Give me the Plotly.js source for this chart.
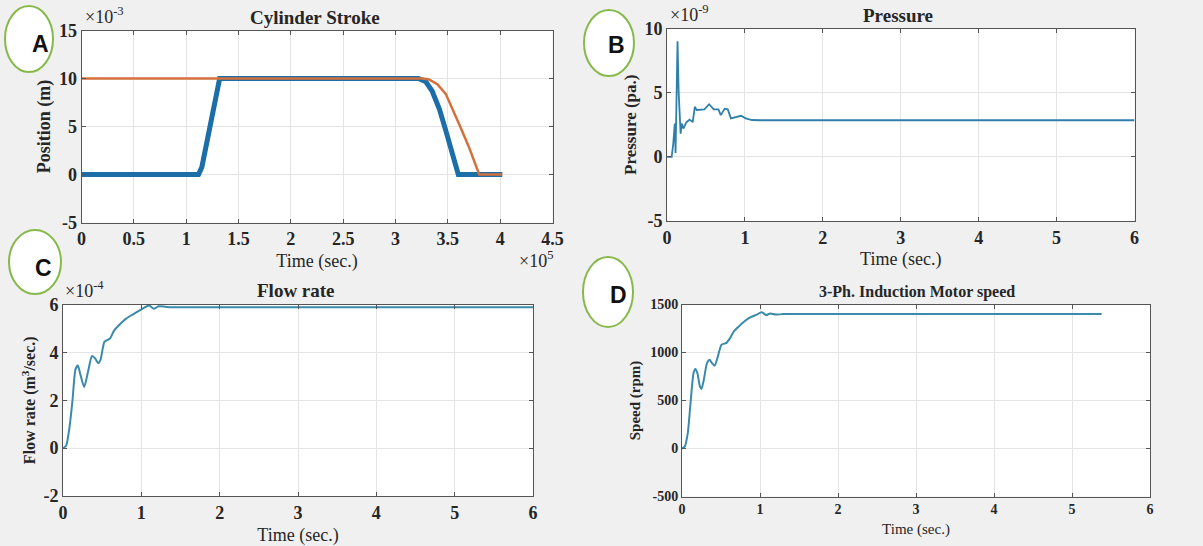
<!DOCTYPE html>
<html>
<head>
<meta charset="utf-8">
<script src="https://cdn.plot.ly/plotly-3.0.1.min.js"></script>
<style>html,body{margin:0;padding:0;background:#f0f0f0;}#chart{width:1203px;height:546px;}</style>
</head>
<body>
<div id="chart"></div>
<script>
// ---------- DATA ----------
// Panel A: Cylinder Stroke (x in ×10^5, y in ×10^-3)
const strokeBlueX = [0, 1.118, 1.15, 1.18, 1.21, 1.245, 1.277, 1.32, 3.22, 3.29, 3.35, 3.42, 3.48, 3.54, 3.6, 3.8, 4.02];
const strokeBlueY = [0, 0, 0.77, 2.5, 4.3, 6.2, 8.0, 10, 10, 9.66, 8.7, 6.8, 4.6, 2.2, 0, 0, 0];
const strokeOrangeX = [0, 3.26, 3.32, 3.4, 3.48, 3.54, 3.62, 3.7, 3.8, 4.02];
const strokeOrangeY = [10, 10, 9.9, 9.4, 8.4, 7.0, 4.95, 2.9, 0, 0];
// Panel B: Pressure (×10^-9)
const pressureT = [0, 0.06, 0.08, 0.1, 0.11, 0.125, 0.135, 0.15, 0.175, 0.19, 0.21, 0.25, 0.29, 0.33, 0.357, 0.38, 0.44, 0.48, 0.54, 0.6, 0.66, 0.69, 0.74, 0.78, 0.82, 0.88, 0.95, 1.01, 1.09, 1.2, 6];
const pressureV = [0, 0, 1.0, 2.6, 0.3, 5.0, 9.0, 5.0, 1.8, 2.6, 2.2, 2.7, 2.9, 2.7, 3.9, 3.65, 3.7, 3.7, 4.1, 3.7, 3.7, 3.25, 3.75, 3.7, 3.0, 3.1, 3.2, 3.0, 2.87, 2.85, 2.85];
// Panel C: Flow rate (×10^-4)
const flowT = [0, 0.04, 0.08, 0.12, 0.16, 0.19, 0.22, 0.27, 0.32, 0.37, 0.41, 0.45, 0.48, 0.53, 0.6, 0.65, 0.71, 0.81, 0.91, 1.0, 1.1, 1.16, 1.22, 1.32, 1.45, 6.0];
const flowV = [0, 0.1, 0.8, 1.95, 3.3, 3.45, 3.1, 2.55, 3.2, 3.85, 3.75, 3.55, 3.7, 4.45, 4.58, 4.9, 5.12, 5.42, 5.62, 5.8, 5.96, 5.82, 5.93, 5.9, 5.89, 5.89];
// Panel D: 3-Ph. Induction Motor speed (rpm)
const speedT = [0, 0.035, 0.074, 0.113, 0.148, 0.172, 0.197, 0.23, 0.25, 0.28, 0.32, 0.355, 0.384, 0.42, 0.46, 0.507, 0.57, 0.616, 0.665, 0.74, 0.81, 0.887, 0.96, 1.02, 1.08, 1.13, 1.2, 1.3, 5.38];
const speedV = [0, 20, 160, 508, 786, 828, 786, 647, 620, 717, 890, 925, 890, 863, 960, 1082, 1100, 1150, 1221, 1280, 1330, 1370, 1395, 1420, 1390, 1406, 1395, 1400, 1400];

// Tick labels
const aXTicks = [0, 0.5, 1, 1.5, 2, 2.5, 3, 3.5, 4, 4.5];
const aXText = ['0', '0.5', '1', '1.5', '2', '2.5', '3', '3.5', '4', '4.5'];
const aYTicks = [-5, 0, 5, 10, 15];
const aYText = ['-5', '0', '5', '10', '15'];
const timeTicks = [0, 1, 2, 3, 4, 5, 6];
const timeText = ['0', '1', '2', '3', '4', '5', '6'];
const bYTicks = [-5, 0, 5, 10];
const bYText = ['-5', '0', '5', '10'];
const cYTicks = [-2, 0, 2, 4, 6];
const cYText = ['-2', '0', '2', '4', '6'];
const dYTicks = [-500, 0, 500, 1000, 1500];
const dYText = ['-500', '0', '500', '1000', '1500'];

// ---------- LAYOUT HELPERS ----------
const W = 1203, H = 546;
const px = v => v / W;
const py = v => 1 - v / H;
const SERIF = '"Liberation Serif", "Times New Roman", serif';
const TXT = '#262626';

function axis(d0, d1, range, tv, tt, anchor, size, vertical, title) {
  return {
    domain: vertical ? [py(d1), py(d0)] : [px(d0), px(d1)],
    range: range, anchor: anchor,
    tickmode: 'array', tickvals: tv, ticktext: tt,
    ticks: 'inside', ticklen: 4, tickcolor: '#555', tickwidth: 1,
    showline: true, linecolor: '#555', linewidth: 1, mirror: 'ticks',
    showgrid: true, gridcolor: '#e4e4e4', gridwidth: 1, zeroline: false,
    tickfont: {family: SERIF, size: size, color: TXT, weight: 'bold'},
    title: title,
    automargin: false,
    fixedrange: true
  };
}

function txt(x, y, text, size, opts) {
  return Object.assign({
    xref: 'paper', yref: 'paper', x: px(x), y: py(y), text: text, showarrow: false,
    xanchor: 'center', yanchor: 'middle',
    font: {family: SERIF, size: size, color: TXT}
  }, opts || {});
}

function ellipse(cx, cy, rx, ry) {
  return {type: 'circle', xref: 'paper', yref: 'paper',
    x0: px(cx - rx), x1: px(cx + rx), y0: py(cy + ry), y1: py(cy - ry),
    line: {color: '#86b94a', width: 2}, fillcolor: '#ffffff', layer: 'below'};
}

function xt(text, size, standoff) {
  return {text: text, standoff: standoff, font: {family: SERIF, size: size, color: TXT}};
}
function yt(text, size, standoff) {
  return {text: text, standoff: standoff, font: {family: SERIF, size: size, color: TXT, weight: 'bold'}};
}

const lineC = '#3a8aab';

const traces = [
  {x: strokeBlueX, y: strokeBlueY, xaxis: 'x', yaxis: 'y', mode: 'lines', line: {color: '#1b6ea8', width: 5}},
  {x: strokeOrangeX, y: strokeOrangeY, xaxis: 'x', yaxis: 'y', mode: 'lines', line: {color: '#d4703c', width: 2.5}},
  {x: pressureT, y: pressureV, xaxis: 'x2', yaxis: 'y2', mode: 'lines', line: {color: '#2f7fab', width: 1.8}},
  {x: flowT, y: flowV, xaxis: 'x3', yaxis: 'y3', mode: 'lines', line: {color: lineC, width: 2, shape: 'spline', smoothing: 0.6}},
  {x: speedT, y: speedV, xaxis: 'x4', yaxis: 'y4', mode: 'lines', line: {color: lineC, width: 2, shape: 'spline', smoothing: 0.6}}
];

const bold = s => '<b>' + s + '</b>';
const letterFont = {family: '"Liberation Sans", Arial, sans-serif', size: 23, color: '#111', weight: 'bold'};

const layout = {
  width: W, height: H, margin: {l: 0, r: 0, t: 0, b: 0},
  paper_bgcolor: '#f0f0f0', plot_bgcolor: '#ffffff', showlegend: false,
  xaxis: axis(81.5, 552.5, [0, 4.5], aXTicks, aXText, 'y', 18, false, xt('Time (sec.)', 18, 6)),
  yaxis: axis(30.5, 222.5, [-5, 15], aYTicks, aYText, 'x', 18, true, yt('Position (m)', 18, 3)),
  xaxis2: axis(667, 1134.5, [0, 6], timeTicks, timeText, 'y2', 18, false, xt('Time (sec.)', 18, 5)),
  yaxis2: axis(28.5, 221, [-5, 10], bYTicks, bYText, 'x2', 18, true, yt('Pressure (pa.)', 17, 3)),
  xaxis3: axis(63, 533, [0, 6], timeTicks, timeText, 'y3', 18, false, xt('Time (sec.)', 18, 6)),
  yaxis3: axis(304.5, 496, [-2, 6], cYTicks, cYText, 'x3', 18, true, yt('Flow rate (m<sup>3</sup>/sec.)', 16, 3)),
  xaxis4: axis(682, 1150, [0, 6], timeTicks, timeText, 'y4', 14, false, xt('Time (sec.)', 15, 7)),
  yaxis4: axis(304.5, 496.5, [-500, 1500], dYTicks, dYText, 'x4', 14, true, yt('Speed (rpm)', 15, 5)),
  shapes: [
    ellipse(29, 39, 24, 33),
    ellipse(609, 43, 25, 33),
    ellipse(35, 262, 26, 32),
    ellipse(608, 292, 25, 35)
  ],
  annotations: [
    // titles
    txt(315, 17, bold('Cylinder Stroke'), 19),
    txt(898, 15, bold('Pressure'), 19),
    txt(296, 290, bold('Flow rate'), 19),
    txt(917, 292, bold('3-Ph. Induction Motor speed'), 16),
    // exponents
    txt(83, 29, '×10<sup>-3</sup>', 18, {xanchor: 'left', yanchor: 'bottom'}),
    txt(555, 273, '×10<sup>5</sup>', 18, {xanchor: 'right', yanchor: 'bottom'}),
    txt(668, 27, '×10<sup>-9</sup>', 18, {xanchor: 'left', yanchor: 'bottom'}),
    txt(63, 303, '×10<sup>-4</sup>', 18, {xanchor: 'left', yanchor: 'bottom'}),
    // panel letters
    txt(40, 44, 'A', 23, {font: letterFont}),
    txt(616, 45, 'B', 23, {font: letterFont}),
    txt(43, 268, 'C', 23, {font: letterFont}),
    txt(618, 295, 'D', 23, {font: letterFont})
  ]
};

Plotly.newPlot('chart', traces, layout, {displayModeBar: false, staticPlot: true});
</script>
</body>
</html>
